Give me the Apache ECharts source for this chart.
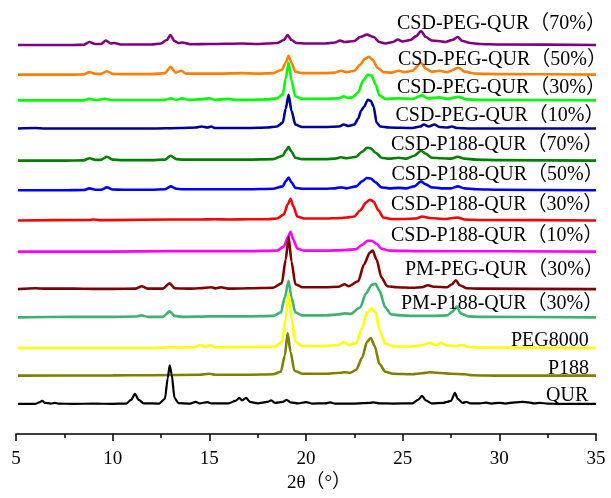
<!DOCTYPE html>
<html>
<head>
<meta charset="utf-8">
<script src="https://cdn.jsdelivr.net/npm/echarts@6/dist/echarts.min.js"></script>
<style>html,body{margin:0;padding:0;background:#fff}#c{width:611px;height:498px}</style>
</head>
<body>
<div id="c"></div>
<script>
// Sample names (top to bottom)
const names = ["CSD-PEG-QUR（70%）","CSD-PEG-QUR（50%）","CSD-PEG-QUR（30%）","CSD-PEG-QUR（10%）",
  "CSD-P188-QUR（70%）","CSD-P188-QUR（50%）","CSD-P188-QUR（30%）","CSD-P188-QUR（10%）",
  "PM-PEG-QUR（30%）","PM-P188-QUR（30%）","PEG8000","P188","QUR"];
// vertical offset of each pattern (stacked display, arbitrary intensity units)
const offsets = [393.5, 363.5, 337.5, 309, 276.5, 246.5, 216, 184.5, 146.5, 118, 87, 59, 30.5];
const colors = ["#800080","#FF8000","#00FF00","#000099","#007F00","#0000FF","#FF0000","#FF00FF","#800000","#3CB371","#FFFF00","#808000","#000000"];
const xTicks = [5, 10, 15, 20, 25, 30, 35];

// [2θ, intensity]
const csdPeg70 = [[5.1,0],[8,0],[8.5,0.3],[8.8,3],[9.1,1],[9.4,1],[9.65,4.5],[9.9,1.5],[10.1,2],[10.4,0.5],[12,0.5],[12.5,1.5],[12.8,5],[12.98,10],[13.2,4],[13.4,2],[13.6,2.5],[14,0.8],[15,1],[16.7,1.5],[17.5,1],[18,1.5],[18.5,2],[18.85,5],[19.05,10],[19.25,5],[19.5,2],[20,1.5],[21,1.5],[21.5,2.5],[21.75,4.5],[22.0,3],[22.5,4],[22.8,8],[23.15,10.5],[23.5,8],[23.8,3],[24.1,1.5],[24.5,3],[24.75,5.5],[25.0,3.5],[25.4,5],[25.7,9],[25.95,14],[26.2,8],[26.5,4.5],[26.85,4],[27.2,3],[27.55,5],[27.85,8],[28.1,4],[28.5,2],[29,1],[30,0.5],[35,0]];
const csdPeg50 = [[5.1,0],[8,0],[8.5,0.3],[8.8,2.5],[9.1,0.8],[9.4,0.8],[9.7,3.5],[10.0,0.8],[10.5,0.5],[12,0.5],[12.7,1.5],[13.0,8],[13.25,2],[13.55,4],[13.8,1],[14.5,1],[15.5,1],[16.7,1.5],[17.5,1],[18.3,1.5],[18.75,5],[18.95,12],[19.1,19],[19.25,12],[19.45,3],[19.8,1.5],[21,1.5],[21.5,2],[21.8,4],[22.1,2.5],[22.5,4],[22.8,10],[23.05,16],[23.25,18],[23.45,15],[23.7,7],[24.0,2.5],[24.4,2],[24.8,4],[25.1,2.5],[25.5,4],[25.95,12],[26.2,6],[26.5,3],[26.9,4],[27.3,2.5],[27.9,7],[28.2,3],[28.8,1],[30,0.5],[35,0]];
const csdPeg30 = [[5.1,0],[8.5,0],[8.8,1.5],[9.1,0.3],[9.6,1.5],[10,0.3],[12,0.3],[12.7,0.5],[13.0,2],[13.3,0.5],[13.6,2],[13.9,0.5],[14.5,1],[15.0,2],[15.3,0.5],[16.0,1.5],[16.3,0.5],[17,0.5],[18,1],[18.5,2],[18.8,6],[18.95,22],[19.1,38],[19.25,20],[19.45,4],[19.8,1.5],[21,1.5],[21.7,2],[21.95,4],[22.15,2.5],[22.4,3],[22.7,8],[22.95,20],[23.2,26],[23.4,25],[23.6,16],[23.8,5],[24.1,1.5],[24.8,2],[25.5,1.5],[26.0,5],[26.3,2],[26.9,3],[27.3,1.5],[27.9,3.5],[28.3,1],[29,0.5],[35,0]];
const csdPeg10 = [[5.1,0],[6,0.5],[6.5,0],[8,0],[10,0],[12,0],[13.5,0.5],[14.3,1],[14.6,2],[14.9,1],[15.1,2],[15.3,0.5],[16,0.5],[17,0.5],[18,1],[18.5,2],[18.8,6],[18.95,20],[19.1,34],[19.25,18],[19.45,4],[19.8,1.5],[21,1.5],[21.7,2],[21.95,4],[22.2,2.5],[22.5,4],[22.7,10],[22.85,18],[23.0,22],[23.2,29],[23.35,28],[23.5,22],[23.65,6],[23.85,2],[24.3,1],[25.5,0.5],[25.9,2],[26.1,4],[26.35,2],[26.65,4],[26.9,1.5],[27.3,1],[27.55,2],[27.8,0.5],[28.5,0],[35,0]];
const csdP70 = [[5.1,0],[7.5,0],[8.5,0.3],[8.8,2.5],[9.1,0.8],[9.4,0.8],[9.7,4],[10.0,1],[10.5,0.5],[12,0.5],[12.7,1],[13.0,5],[13.3,1.5],[13.6,1],[14.5,1],[16,1],[17,1],[18.3,1.5],[18.8,5],[18.95,10],[19.1,14],[19.25,9],[19.45,3],[19.8,1.5],[21,1.5],[21.5,2],[21.8,3.5],[22.1,2.5],[22.6,4],[22.9,9],[23.15,13],[23.35,12.5],[23.6,8],[23.9,3],[24.3,2],[24.8,3],[25.2,2],[25.6,5],[25.95,10],[26.2,7],[26.5,3],[27.0,2.5],[27.5,2],[27.85,4],[28.2,2],[28.8,1],[30,0.5],[35,0]];
const csdP50 = [[5.1,0],[7.5,0],[8.5,0.3],[8.8,2],[9.1,0.5],[9.4,0.5],[9.7,3],[10.0,0.8],[10.5,0.5],[12,0.5],[12.7,1],[13.0,4],[13.3,1.5],[13.6,1],[14.5,1],[16,1],[17,1],[18.3,1.5],[18.8,4],[18.95,9],[19.1,13],[19.25,8],[19.45,2.5],[19.8,1.5],[21,1.5],[21.5,2],[21.8,3],[22.1,2],[22.6,4],[22.9,9],[23.15,12.5],[23.35,12],[23.6,8],[23.9,3],[24.3,2],[24.8,2.5],[25.2,2],[25.6,4],[25.95,9],[26.2,6],[26.5,3],[27.0,2],[27.5,2],[27.85,4],[28.2,2],[28.8,1],[30,0.5],[35,0]];
const csdP30 = [[5.1,0],[8.8,0.5],[9,1],[9.3,0.3],[10,0.3],[13,1],[13.6,1],[14.5,1],[15.3,1.2],[16,1],[17,1.2],[18,1.2],[18.5,2],[18.85,6],[19.05,16],[19.2,22],[19.35,14],[19.55,4],[19.9,2],[21,2],[21.8,2.5],[22.1,3],[22.5,4],[22.8,10],[23.1,18],[23.3,21],[23.5,19],[23.75,10],[24.0,3],[24.4,1.5],[25,1.5],[25.7,2],[26.0,4],[26.4,2.5],[27.2,1.5],[27.85,3],[28.2,1],[29,0.5],[35,0]];
const csdP10 = [[5.1,0],[10,0],[13,0.5],[15,0.5],[17,0.5],[18.5,1],[18.85,5],[19.05,14],[19.2,20],[19.35,12],[19.55,3],[19.9,1],[21,1],[22.0,1.5],[22.6,2.5],[22.9,7],[23.2,11],[23.4,11],[23.65,8],[23.9,3],[24.3,1],[26,0.5],[35,0]];
const pmPeg30 = [[5.1,0],[6,1],[6.5,0.5],[8,0.5],[9,0.3],[10,0.3],[11.2,0.5],[11.5,3],[11.8,0.5],[12.6,0.5],[12.95,6],[13.2,1],[14,0.5],[14.5,1],[15.1,2],[15.3,0.8],[15.6,2],[16,0.5],[17,1],[18.3,1.5],[18.75,6],[18.95,30],[19.1,53],[19.25,28],[19.45,5],[19.8,2],[21,2],[21.7,2.5],[22.0,5],[22.2,3],[22.7,8],[23.0,25],[23.3,37],[23.45,39],[23.65,30],[23.9,12],[24.2,3],[24.7,2],[25.5,1.5],[26.0,2],[26.3,4],[26.6,2.5],[27.3,2],[27.55,5],[27.75,9],[27.95,4],[28.3,1],[29,0.5],[35,0]];
const pmP30 = [[5.1,0],[8,0.5],[10,0.5],[11.2,0.8],[11.5,2],[11.8,0.5],[12.6,0.5],[12.95,6],[13.2,1.5],[13.6,0.5],[15,1],[17,1],[18.3,1.5],[18.7,5],[18.9,20],[19.1,37],[19.25,20],[19.45,5],[19.8,2],[21,2],[21.7,3],[22.0,4],[22.3,3.5],[22.8,10],[23.1,24],[23.4,33],[23.6,34],[23.8,27],[24.1,10],[24.4,3],[24.9,2],[25.5,1.5],[26.5,1.5],[27.3,2],[27.6,6],[27.8,11],[28.0,4],[28.4,1],[29,0.5],[35,0]];
const peg8000 = [[5.1,0],[12,0],[13.0,0.8],[13.5,0.5],[14.2,0.8],[14.55,3],[14.8,1],[15.05,3],[15.3,0.8],[17,1],[18.4,1.5],[18.75,6],[18.95,30],[19.1,55],[19.25,30],[19.45,6],[19.8,2],[21,2],[21.7,3],[21.95,6],[22.2,3],[22.6,5],[22.9,20],[23.15,36],[23.4,40],[23.6,36],[23.8,18],[24.1,4],[24.6,1.5],[25.5,1.5],[26.0,3],[26.4,5],[26.7,3],[27.0,5],[27.3,2.5],[27.8,2],[28.1,3],[28.4,1],[29,0.5],[35,0]];
const p188 = [[5.1,0],[10,0.3],[12,0.5],[14.5,1],[15.0,2],[15.3,1],[17,1],[18.3,1.5],[18.7,4],[18.9,20],[19.05,43],[19.2,24],[19.4,5],[19.8,2],[21,2],[21.8,3],[22.0,3.5],[22.3,3],[22.6,6],[22.9,18],[23.15,34],[23.35,38],[23.55,30],[23.8,12],[24.1,4],[24.5,2],[25.5,1.5],[26.0,2.5],[26.4,3.5],[26.8,3],[27.5,2],[28.2,1.5],[28.6,0.5],[30,0],[35,0]];
const qur = [[5.1,0],[6.0,0],[6.2,1.5],[6.35,3],[6.5,1],[6.8,0.3],[7.0,1],[7.2,0.2],[8,0],[9,0.2],[10,0],[10.7,0.3],[10.95,4],[11.15,10],[11.35,4],[11.6,0.5],[12.4,0.3],[12.7,5],[12.85,26],[12.95,39],[13.05,30],[13.2,6],[13.4,0.8],[14.0,0.3],[14.3,2],[14.5,0.5],[14.9,1.8],[15.1,0.4],[16.0,0.5],[16.35,3],[16.55,6],[16.7,3.5],[16.9,6],[17.1,2],[17.5,0.4],[18.0,2],[18.2,3.5],[18.4,1],[18.8,2],[19.0,4],[19.2,1.5],[19.6,0.5],[20.0,1.8],[20.3,0.3],[21.0,0.5],[21.25,1.5],[21.5,0.3],[22.5,0.3],[23.3,1],[23.5,1.5],[23.8,0.5],[24.5,0.3],[25.5,0.5],[25.8,4],[26.0,8],[26.2,3.5],[26.5,0.5],[27.1,1],[27.3,2],[27.5,3],[27.7,11],[27.85,5],[28.1,1],[28.3,2],[28.5,0.5],[29.0,0.5],[29.3,1.2],[29.6,0.3],[30.0,1],[30.3,0.3],[30.8,1.5],[31.2,2],[31.5,1.5],[31.8,0.5],[32.1,1],[32.5,0.2],[33,0],[35,0]];

const patterns = [csdPeg70, csdPeg50, csdPeg30, csdPeg10, csdP70, csdP50, csdP30, csdP10, pmPeg30, pmP30, peg8000, p188, qur];

// label placement (pixels)
const labelX = [397, 398, 397, 395.5, 391, 391.5, 391, 391, 405, 401, 511, 548, 546];
const labelY = [23.5, 60, 88, 116, 145, 175, 205, 236, 270, 304, 341, 369, 396];

const FONT = "'Liberation Serif','Times New Roman','Noto Sans CJK SC',serif";

const series = patterns.map((p, i) => ({
  name: names[i],
  type: 'line',
  data: p.map(d => [d[0], d[1] + offsets[i]]),
  showSymbol: false,
  smooth: 0.25,
  smoothMonotone: 'x',
  lineStyle: { color: colors[i], width: i === 12 ? 2.2 : 2.6 },
  itemStyle: { color: colors[i] },
  z: 2 + i
}));

const graphic = names.map((n, i) => ({
  type: 'text',
  x: labelX[i],
  y: labelY[i],
  style: { text: n, fontSize: 20, fontFamily: FONT, fill: '#000', align: 'left', verticalAlign: 'middle' },
  z: 100
}));

const chart = echarts.init(document.getElementById('c'), null, { renderer: 'canvas' });
chart.setOption({
  animation: false,
  backgroundColor: '#fff',
  grid: { left: 16, right: 15, top: 0, bottom: 59 },
  xAxis: {
    type: 'value', min: xTicks[0], max: xTicks[xTicks.length - 1], interval: 5,
    axisLine: { show: true, onZero: false, lineStyle: { color: '#000', width: 1.5 } },
    axisTick: { show: true, inside: false, length: 7, lineStyle: { color: '#000', width: 1.5 } },
    minorTick: { show: true, splitNumber: 2, length: 4, lineStyle: { color: '#000', width: 1.5 } },
    splitLine: { show: false },
    axisLabel: { fontSize: 19, fontFamily: FONT, color: '#000', margin: 16 },
    name: '2θ（°）', nameLocation: 'middle', nameGap: 40,
    nameTextStyle: { fontSize: 19, fontFamily: FONT, color: '#000', padding: [0, 0, 0, 26] }
  },
  yAxis: { type: 'value', min: 0, max: 439, show: false },
  series: series,
  graphic: graphic
});
</script>
</body>
</html>
